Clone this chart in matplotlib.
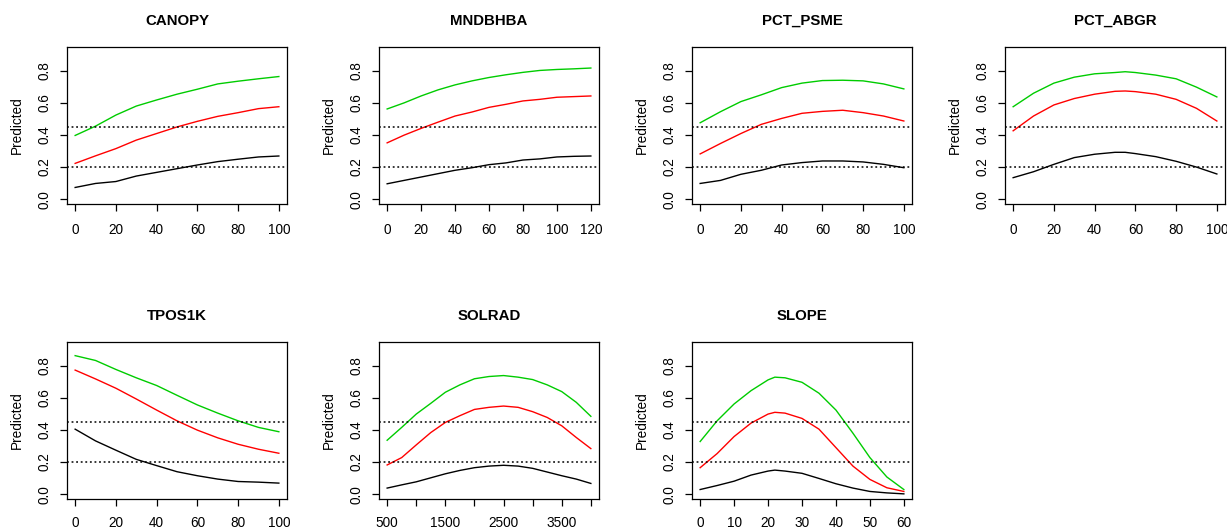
import matplotlib
matplotlib.use("Agg")
import matplotlib.pyplot as plt

plt.rcParams['font.family'] = ['Liberation Sans', 'DejaVu Sans']

# predicted response curves (black / red / green)
canopy_x = [0, 10, 20, 30, 40, 50, 60, 70, 80, 90, 100]
canopy_lo = [0.073, 0.098, 0.110, 0.144, 0.167, 0.190, 0.213, 0.234, 0.249, 0.263, 0.269]
canopy_mid = [0.223, 0.270, 0.315, 0.368, 0.409, 0.450, 0.485, 0.516, 0.539, 0.564, 0.576]
canopy_hi = [0.397, 0.455, 0.524, 0.580, 0.618, 0.654, 0.685, 0.718, 0.735, 0.750, 0.764]

mndbhba_x = [0, 10, 20, 30, 40, 50, 60, 70, 80, 90, 100, 110, 120]
mndbhba_lo = [0.096, 0.117, 0.138, 0.159, 0.180, 0.196, 0.215, 0.226, 0.244, 0.251, 0.263, 0.267, 0.269]
mndbhba_mid = [0.351, 0.399, 0.441, 0.480, 0.518, 0.543, 0.572, 0.591, 0.612, 0.622, 0.635, 0.639, 0.643]
mndbhba_hi = [0.562, 0.600, 0.643, 0.681, 0.712, 0.737, 0.758, 0.775, 0.790, 0.802, 0.808, 0.812, 0.817]

psme_x = [0, 10, 20, 30, 40, 50, 60, 70, 80, 90, 100]
psme_lo = [0.098, 0.117, 0.155, 0.180, 0.213, 0.228, 0.238, 0.238, 0.232, 0.217, 0.196]
psme_mid = [0.282, 0.347, 0.409, 0.466, 0.503, 0.535, 0.547, 0.554, 0.539, 0.518, 0.487]
psme_hi = [0.476, 0.545, 0.608, 0.650, 0.695, 0.723, 0.739, 0.741, 0.737, 0.718, 0.687]

abgr_x = [0, 10, 20, 30, 40, 50, 55, 60, 70, 80, 90, 100]
abgr_lo = [0.134, 0.171, 0.217, 0.259, 0.280, 0.292, 0.292, 0.284, 0.265, 0.236, 0.200, 0.157]
abgr_mid = [0.426, 0.518, 0.587, 0.627, 0.654, 0.672, 0.674, 0.670, 0.654, 0.622, 0.566, 0.487]
abgr_hi = [0.576, 0.660, 0.723, 0.760, 0.781, 0.789, 0.794, 0.789, 0.773, 0.750, 0.698, 0.637]

tpos_x = [0, 10, 20, 30, 40, 50, 60, 70, 80, 90, 100]
tpos_lo = [0.405, 0.332, 0.274, 0.217, 0.178, 0.140, 0.115, 0.094, 0.079, 0.075, 0.069]
tpos_mid = [0.773, 0.718, 0.660, 0.593, 0.524, 0.457, 0.399, 0.351, 0.311, 0.280, 0.255]
tpos_hi = [0.863, 0.833, 0.777, 0.725, 0.677, 0.616, 0.556, 0.505, 0.457, 0.416, 0.389]

solrad_x = [500, 750, 1000, 1250, 1500, 1750, 2000, 2250, 2500, 2750, 3000, 3250, 3500, 3750, 4000]
solrad_lo = [0.038, 0.058, 0.077, 0.102, 0.127, 0.148, 0.165, 0.175, 0.180, 0.175, 0.161, 0.138, 0.115, 0.094, 0.067]
solrad_mid = [0.182, 0.228, 0.307, 0.384, 0.447, 0.489, 0.528, 0.541, 0.549, 0.541, 0.514, 0.478, 0.426, 0.353, 0.284]
solrad_hi = [0.336, 0.416, 0.499, 0.566, 0.635, 0.681, 0.719, 0.733, 0.739, 0.729, 0.714, 0.681, 0.639, 0.572, 0.485]

slope_x = [0, 5, 10, 15, 20, 22, 25, 30, 35, 40, 45, 50, 55, 60]
slope_lo = [0.029, 0.054, 0.081, 0.119, 0.144, 0.150, 0.144, 0.130, 0.098, 0.065, 0.038, 0.017, 0.008, 0.002]
slope_mid = [0.165, 0.253, 0.359, 0.443, 0.499, 0.510, 0.505, 0.472, 0.405, 0.290, 0.175, 0.092, 0.040, 0.017]
slope_hi = [0.328, 0.457, 0.562, 0.645, 0.712, 0.729, 0.725, 0.697, 0.629, 0.524, 0.380, 0.228, 0.107, 0.029]

titles = ["CANOPY", "MNDBHBA", "PCT_PSME", "PCT_ABGR", "TPOS1K", "SOLRAD", "SLOPE"]
xs = [canopy_x, mndbhba_x, psme_x, abgr_x, tpos_x, solrad_x, slope_x]
lows = [canopy_lo, mndbhba_lo, psme_lo, abgr_lo, tpos_lo, solrad_lo, slope_lo]
mids = [canopy_mid, mndbhba_mid, psme_mid, abgr_mid, tpos_mid, solrad_mid, slope_mid]
highs = [canopy_hi, mndbhba_hi, psme_hi, abgr_hi, tpos_hi, solrad_hi, slope_hi]
xticks = [
    [0, 20, 40, 60, 80, 100],
    [0, 20, 40, 60, 80, 100, 120],
    [0, 20, 40, 60, 80, 100],
    [0, 20, 40, 60, 80, 100],
    [0, 20, 40, 60, 80, 100],
    [500, 1000, 1500, 2000, 2500, 3000, 3500, 4000],
    [0, 10, 20, 30, 40, 50, 60],
]
cutoffs = [0.45, 0.2]
yticks = [0.0, 0.2, 0.4, 0.6, 0.8]

W, H = 1227, 531
fig = plt.figure(figsize=(W / 100, H / 100), dpi=100)

lefts = [67, 379, 692, 1005]
tops = [47, 342]
aw, ah = 220, 157

for i, name in enumerate(titles):
    row, col = divmod(i, 4)
    ax = fig.add_axes([lefts[col] / W, 1 - (tops[row] + ah) / H, aw / W, ah / H])
    x = xs[i]
    ax.plot(x, lows[i], color="black", lw=1.0)
    ax.plot(x, mids[i], color="#ff0000", lw=1.0)
    ax.plot(x, highs[i], color="#00cc00", lw=1.0)
    for c in cutoffs:
        ax.axhline(c, color="black", lw=1.1, linestyle=(0, (1.2, 1.8)))

    span = max(x) - min(x)
    ax.set_xlim(min(x) - 0.04 * span, max(x) + 0.04 * span)
    ax.set_ylim(-0.03, 0.948)
    ax.set_yticks(yticks)
    ax.set_yticklabels([f"{v:.1f}" for v in yticks], rotation=90, va="center")
    ax.set_xticks(xticks[i])
    if name == "SOLRAD":
        # R drops the labels that would overlap
        ax.set_xticklabels([str(t) if t in (500, 1500, 2500, 3500) else "" for t in xticks[i]])
    ax.tick_params(direction="out", length=5, width=0.9, labelsize=9.8, color="black")
    ax.tick_params(axis="x", pad=9 if row == 0 else 7)
    ax.tick_params(axis="y", pad=6)
    for s in ax.spines.values():
        s.set_linewidth(0.9)
    ax.set_ylabel("Predicted", fontsize=9.8, labelpad=10)
    ax.set_title(name, fontsize=10.8, fontweight="bold", pad=16)

fig.savefig("out.png", dpi=100)
